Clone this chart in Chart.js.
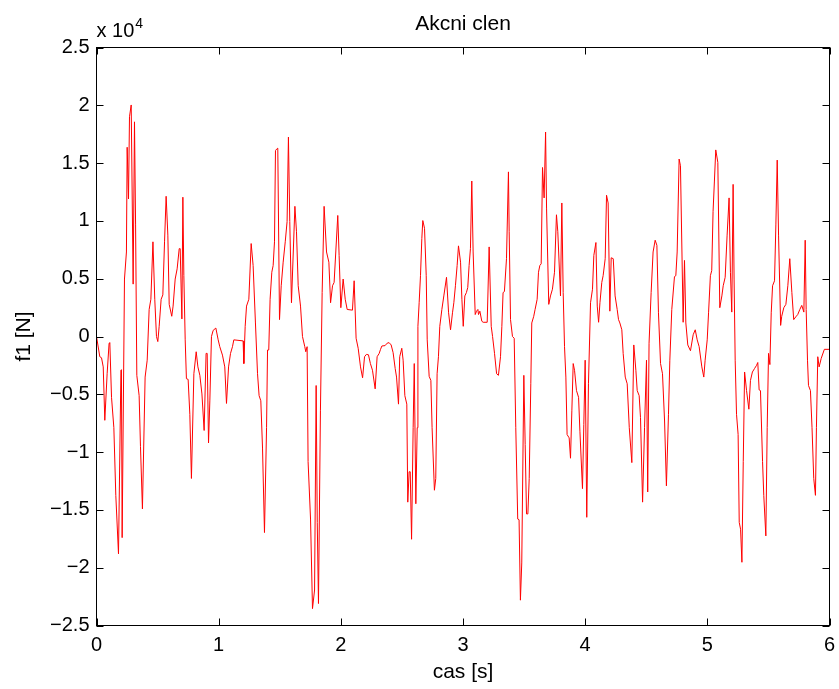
<!DOCTYPE html>
<html>
<head>
<meta charset="utf-8">
<script src="https://cdn.jsdelivr.net/npm/chart.js@4/dist/chart.umd.min.js"></script>
<style>
  html, body { margin: 0; padding: 0; background: #fff; }
  #wrap { width: 839px; height: 689px; }
</style>
</head>
<body>
<div id="wrap"><canvas id="c" width="839" height="689"></canvas></div>
<script>
// Chart text
const chartTitle = 'Akcni clen';
const xTitle = 'cas [s]';
const yTitle = 'f1 [N]';
const yExponent = '4';

// Axis ranges / ticks
const xRange = [0, 6];
const xStep = 1;
const yRange = [-25000, 25000];
const yStep = 5000;

// Series: time [s]
const times = [
0,0.027,0.041,0.055,0.068,0.087,0.103,0.109,0.123,0.142,0.158,0.180,0.200,0.204,0.210,0.229,0.245,0.251,0.262,0.270,
0.284,0.300,0.311,0.320,0.330,0.349,0.360,0.376,0.398,0.415,0.431,0.445,0.462,0.477,0.491,0.502,0.513,0.529,0.543,0.557,
0.570,0.584,0.595,0.616,0.627,0.644,0.660,0.677,0.685,0.699,0.707,0.715,0.726,0.736,0.750,0.764,0.777,0.797,0.816,0.830,
0.846,0.863,0.881,0.897,0.906,0.917,0.928,0.941,0.955,0.977,0.996,1.009,1.031,1.050,1.064,1.081,1.097,1.113,1.124,1.200,
1.206,1.217,1.228,1.247,1.266,1.282,1.301,1.318,1.331,1.345,1.359,1.375,1.392,1.400,1.410,1.421,1.435,1.446,1.457,1.465,
1.476,1.484,1.498,1.512,1.528,1.545,1.560,1.571,1.582,1.596,1.624,1.637,1.651,1.670,1.686,1.705,1.713,1.724,1.732,1.752,
1.768,1.785,1.798,1.807,1.817,1.833,1.847,1.863,1.883,1.902,1.916,1.932,1.945,1.975,1.986,2.000,2.019,2.036,2.052,2.095,
2.109,2.125,2.142,2.161,2.178,2.194,2.209,2.226,2.242,2.259,2.281,2.297,2.314,2.325,2.336,2.362,2.379,2.395,2.412,2.428,
2.445,2.456,2.472,2.482,2.499,2.510,2.524,2.540,2.548,2.559,2.568,2.579,2.592,2.601,2.614,2.625,2.631,2.641,2.652,2.663,
2.671,2.685,2.699,2.707,2.723,2.737,2.747,2.766,2.777,2.788,2.799,2.810,2.827,2.843,2.865,2.882,2.898,2.914,2.925,2.938,
2.952,2.963,2.980,2.991,3.002,3.015,3.028,3.039,3.050,3.061,3.072,3.083,3.100,3.111,3.122,3.127,3.138,3.154,3.165,3.198,
3.214,3.231,3.242,3.258,3.275,3.290,3.307,3.318,3.328,3.339,3.356,3.372,3.378,3.389,3.405,3.419,3.432,3.448,3.459,3.470,
3.481,3.498,3.509,3.520,3.531,3.542,3.555,3.563,3.579,3.590,3.607,3.618,3.629,3.640,3.651,3.664,3.676,3.684,3.702,3.716,
3.732,3.749,3.765,3.776,3.798,3.809,3.820,3.831,3.842,3.852,3.869,3.880,3.891,3.902,3.913,3.929,3.946,3.957,3.978,3.989,
4.000,4.013,4.027,4.044,4.060,4.071,4.088,4.099,4.110,4.121,4.136,4.147,4.164,4.175,4.188,4.202,4.213,4.230,4.245,4.262,
4.273,4.284,4.300,4.311,4.328,4.344,4.361,4.382,4.398,4.415,4.426,4.442,4.453,4.470,4.486,4.502,4.512,4.523,4.540,4.556,
4.573,4.587,4.600,4.617,4.633,4.650,4.665,4.682,4.693,4.709,4.731,4.742,4.753,4.769,4.780,4.802,4.813,4.824,4.840,4.862,
4.884,4.901,4.917,4.933,4.955,4.971,4.982,4.999,5.010,5.025,5.036,5.047,5.058,5.069,5.086,5.102,5.119,5.130,5.146,5.162,
5.178,5.189,5.200,5.211,5.219,5.228,5.239,5.252,5.261,5.272,5.283,5.294,5.305,5.321,5.340,5.353,5.369,5.386,5.403,5.413,
5.424,5.435,5.452,5.462,5.479,5.490,5.501,5.512,5.523,5.534,5.550,5.561,5.572,5.583,5.600,5.609,5.626,5.643,5.659,5.675,
5.692,5.707,5.724,5.740,5.757,5.773,5.790,5.801,5.809,5.820,5.828,5.844,5.857,5.871,5.885,5.893,5.904,5.915,5.932,5.958,
6.000
];

// Series: f1 [N]
const f1 = [
0,-1750,-1840,-2630,-7250,-3220,-580,-530,-5260,-7890,-13740,-18800,-2920,-2870,-17400,4970,7310,16370,11900,19010,
20030,4530,18570,9650,-3360,-5120,-9500,-14910,-3510,-2050,2340,3220,8190,3220,0,-440,880,3220,3600,8190,
12130,8770,2780,1750,2630,4970,5850,7600,7600,1520,12050,5260,-290,-3650,-3710,-6730,-12280,-3220,-1320,-2630,
-3360,-4970,-8130,-1460,-1460,-9210,-5500,0,530,730,-290,-880,-1610,-2630,-5790,-2630,-1460,-880,-290,-380,
-2340,880,2630,3220,8040,6140,1170,-3220,-5120,-5560,-9650,-16960,-7890,-1170,-1170,3220,5560,6140,8190,16080,
16230,16290,1460,4390,6430,8190,9940,17250,9940,2920,11260,9060,4390,2630,0,-880,-1320,-880,-10820,-15790,
-23540,-21930,-4240,-16080,-23100,-6430,3800,11260,7310,6430,2920,4390,4680,10470,7020,2490,4970,3220,2340,2280,
4820,-150,-1020,-2630,-3570,-1750,-1550,-1580,-2340,-2920,-4530,-1750,-1460,-1110,-820,-790,-580,-530,-730,-1400,
-2780,-3510,-5850,-1750,-1020,-2050,-5120,-5850,-14330,-11700,-11700,-17540,-7890,-2340,-14470,-7890,880,2920,5260,8480,
10030,9360,5260,-290,-3450,-3800,-7890,-13300,-12280,-3220,-1750,880,2340,3510,5120,2050,580,2050,2920,4390,
6140,7840,6430,3220,880,3510,3800,4240,6140,7600,13450,7310,1900,2190,2340,1900,2190,1320,1230,1230,
7750,880,0,-1460,-3220,-3360,-1750,880,3800,3890,6730,14240,9060,1460,0,-150,-7890,-15790,-15850,-22810,
-19590,-3360,-9360,-15350,-15350,-12280,-4090,1170,1750,2340,3220,5560,6140,6290,14620,11990,17690,11110,2780,3510,
4090,5560,10530,9060,3510,11550,3800,-880,-3510,-8480,-8770,-10530,-6430,-2340,-2920,-4680,-5260,-8190,-13160,-7600,
-2050,-15640,-4090,2920,4090,7020,8130,2630,1230,2920,4680,5260,6730,12220,11550,2190,6810,6730,3510,2340,
1460,1170,580,-1460,-3510,-4090,-7890,-10910,-730,-2920,-4680,-5120,-7020,-14330,-7890,-2050,-13450,-580,3800,7310,
8330,7890,2050,-2340,-3220,-7310,-12920,-6730,-2050,2340,5180,5260,7310,15350,14770,1230,6580,1170,-730,-1230,
150,580,-290,-880,-2630,-3510,-2050,-290,2050,5260,5700,10820,13450,16140,15060,2490,3510,4390,5120,8770,
11990,5560,2110,13160,4970,-2050,-6730,-8480,-16080,-16670,-19530,-10820,-3070,-4680,-6290,-3800,-3070,-2780,-2490,-2250,
-4620,-4680,-10820,-13740,-17250,-7890,-1460,-2430,2050,4390,4820,9650,15260,8770,960,1750,2490,2780,4390,6730,
3800,1460,1700,1900,2340,2690,2110,8330,2340,-2050,-4240,-4680,-7890,-12280,-13740,-7890,-1750,-2630,-1900,-1110,
-1110
];

const FONT = '"Liberation Sans", Arial, Helvetica, sans-serif';

const points = times.map((t, i) => ({ x: t, y: f1[i] }));

const frame = {
  id: 'frame',
  afterDraw(chart) {
    const { ctx, chartArea: a, scales: { x, y } } = chart;
    ctx.save();
    ctx.strokeStyle = '#000';
    ctx.lineWidth = 1;
    ctx.strokeRect(a.left, a.top, a.right - a.left, a.bottom - a.top);
    const L = 7;
    ctx.beginPath();
    x.ticks.forEach(t => {
      const px = Math.round(x.getPixelForValue(t.value)) + 0.5;
      ctx.moveTo(px, a.bottom); ctx.lineTo(px, a.bottom - L);
      ctx.moveTo(px, a.top); ctx.lineTo(px, a.top + L);
    });
    y.ticks.forEach(t => {
      const py = Math.round(y.getPixelForValue(t.value)) + 0.5;
      ctx.moveTo(a.left, py); ctx.lineTo(a.left + L, py);
      ctx.moveTo(a.right, py); ctx.lineTo(a.right - L, py);
    });
    ctx.stroke();

    ctx.fillStyle = '#000';
    ctx.textBaseline = 'alphabetic';
    ctx.textAlign = 'center';
    ctx.font = '21px ' + FONT;
    ctx.fillText(chartTitle, (a.left + a.right) / 2, 30);

    ctx.textAlign = 'left';
    ctx.font = '20px ' + FONT;
    const base = 'x 10';
    ctx.fillText(base, a.left, 37);
    const w = ctx.measureText(base).width;
    ctx.font = '14px ' + FONT;
    ctx.fillText(yExponent, a.left + w + 1, 28);
    ctx.restore();
  }
};

new Chart(document.getElementById('c'), {
  type: 'line',
  data: {
    datasets: [{
      data: points,
      borderColor: 'rgb(255,0,0)',
      borderWidth: 1,
      pointRadius: 0,
      tension: 0,
      fill: false
    }]
  },
  options: {
    responsive: false,
    animation: false,
    parsing: false,
    layout: { padding: { left: 0, right: 9.5, top: 47.5, bottom: 0 } },
    plugins: { legend: { display: false }, tooltip: { enabled: false }, title: { display: false } },
    scales: {
      x: {
        type: 'linear',
        min: xRange[0], max: xRange[1],
        ticks: { stepSize: xStep, color: '#000', font: { family: FONT, size: 20, lineHeight: 2 }, padding: 0, maxRotation: 0 },
        grid: { display: false, drawTicks: false },
        border: { display: false },
        title: { display: true, text: xTitle, color: '#000', font: { family: FONT, size: 21 }, padding: { top: 0, bottom: 4 } },
        afterFit(s) { s.height = 63.5; }
      },
      y: {
        type: 'linear',
        min: yRange[0], max: yRange[1],
        ticks: {
          stepSize: yStep, color: '#000', font: { family: FONT, size: 20 }, padding: 7,
          callback: v => {
            const r = Math.round(v / 1000) / 10;
            return r < 0 ? '\u2212' + String(-r) : String(r);
          }
        },
        grid: { display: false, drawTicks: false },
        border: { display: false },
        title: { display: true, text: yTitle, color: '#000', font: { family: FONT, size: 21 }, padding: { top: 12, bottom: 0 } },
        afterFit(s) { s.width = 96.5; }
      }
    }
  },
  plugins: [frame]
});
</script>
</body>
</html>
